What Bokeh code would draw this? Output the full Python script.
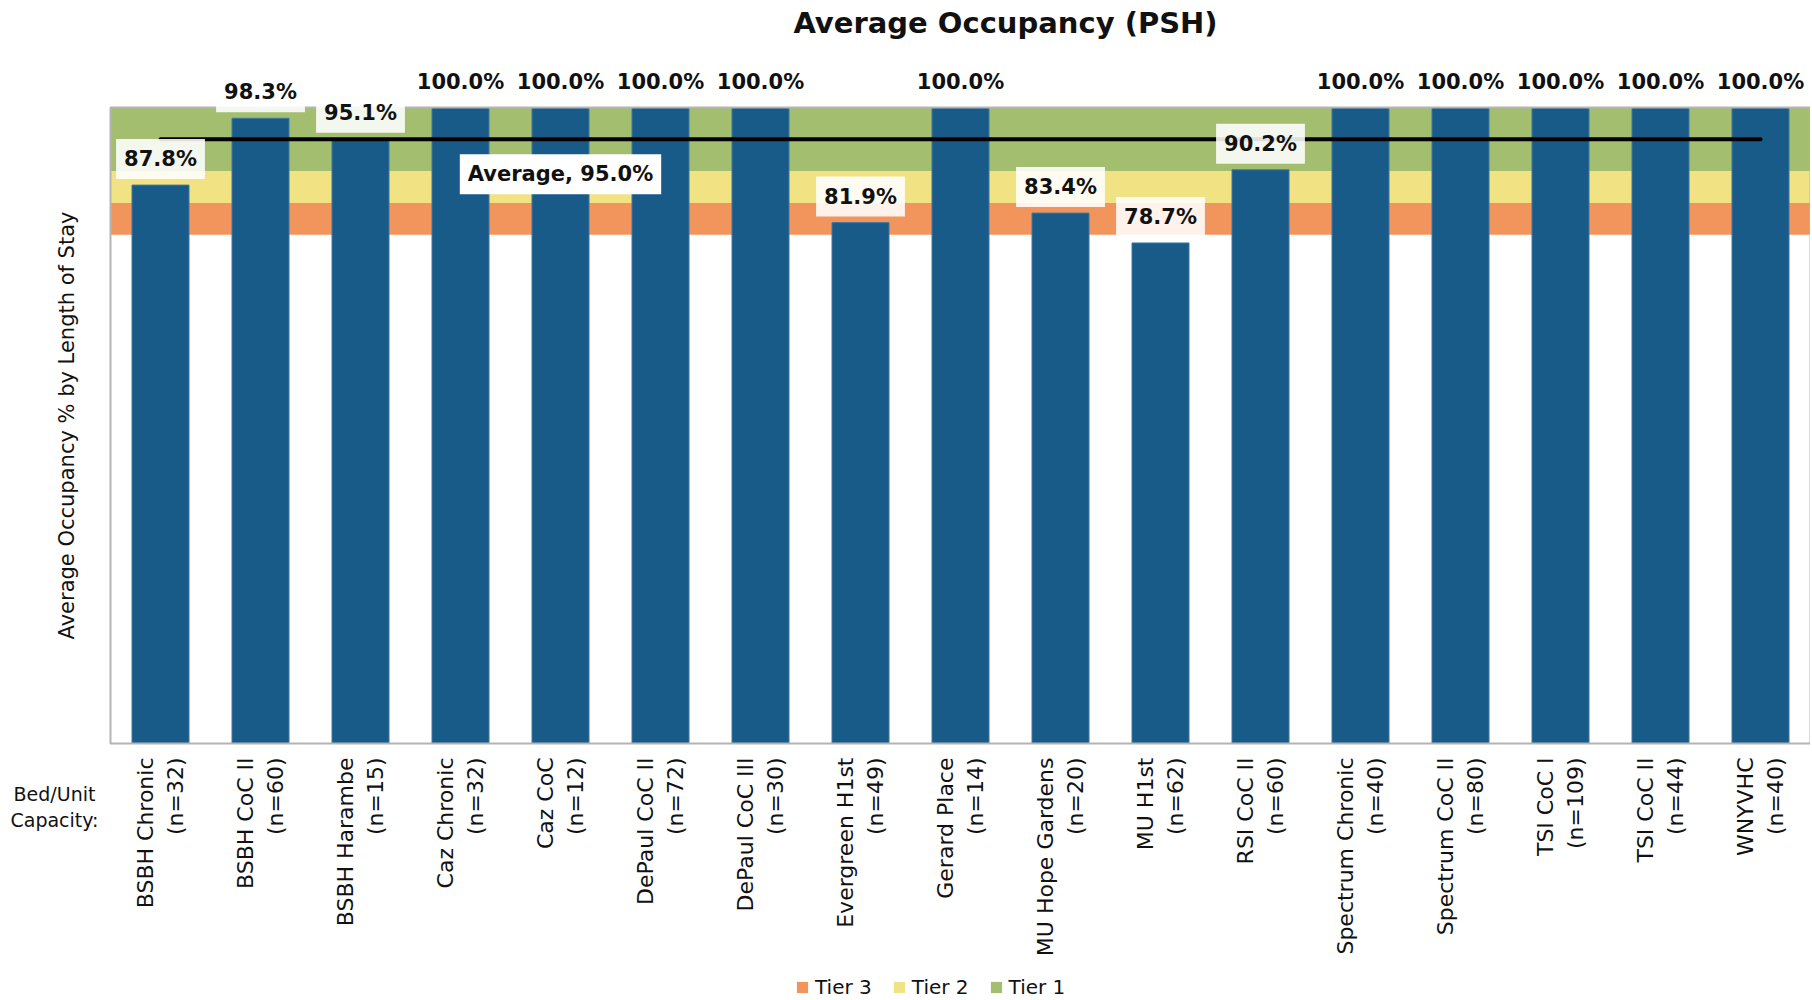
import math
from bokeh.plotting import figure
from bokeh.models import Range1d, FixedTicker, Label, ColumnDataSource
from bokeh.core.properties import value
from bokeh.embed import file_html
from bokeh.resources import INLINE

# ---- data ----
programs = ["BSBH Chronic", "BSBH CoC II", "BSBH Harambe", "Caz Chronic", "Caz CoC",
            "DePaul CoC II", "DePaul CoC III", "Evergreen H1st", "Gerard Place",
            "MU Hope Gardens", "MU H1st", "RSI CoC II", "Spectrum Chronic",
            "Spectrum CoC II", "TSI CoC I", "TSI CoC II", "WNYVHC"]
capacity = [32, 60, 15, 32, 12, 72, 30, 49, 14, 20, 62, 60, 40, 80, 109, 44, 40]
occupancy = [87.8, 98.3, 95.1, 100.0, 100.0, 100.0, 100.0, 81.9, 100.0,
             83.4, 78.7, 90.2, 100.0, 100.0, 100.0, 100.0, 100.0]
average_value = 95.0
tier_names = ["Tier 3", "Tier 2", "Tier 1"]
tier_low = [80, 85, 90]
tier_high = [85, 90, 100]
tier_colors = ["#f2955c", "#f1e384", "#a2be6e"]

FONT = "DejaVu Sans"
BLUE = "#185a88"
TXT = "#111111"

xs = list(range(len(programs)))
X_START, X_END = -0.5, len(programs) - 0.5      # plot area (category band)
Y_MIN, Y_MAX = 0, 100

# canvas geometry: frame covers the whole canvas so that every text can live in it
W, H = 1810, 998
PX_X = 100.0      # pixels per category
PX_Y = 6.36       # pixels per percentage point
LEFT_PX, BOTTOM_PX = 110, 743   # plot-area left / bottom in canvas pixels
xr = Range1d(X_START - LEFT_PX / PX_X, X_START + (W - LEFT_PX) / PX_X)
yr = Range1d(Y_MIN - (H - BOTTOM_PX) / PX_Y, Y_MIN + BOTTOM_PX / PX_Y)

p = figure(width=W, height=H, output_backend="svg", toolbar_location=None,
           title=None, x_range=xr, y_range=yr, min_border=0)
p.background_fill_color = "white"
p.border_fill_color = "white"
p.outline_line_color = None
p.xgrid.visible = False
p.ygrid.visible = False

# tier bands
tier_src = ColumnDataSource(dict(tier=tier_names, low=tier_low, high=tier_high, color=tier_colors))
p.quad(left=X_START, right=X_END, bottom="low", top="high", fill_color="color",
       line_color=None, legend_field="tier", source=tier_src)

# bars
p.vbar(x=xs, top=occupancy, width=0.57, fill_color=BLUE, line_color="#3f77a0", line_width=1)

# plot-area border
p.quad(left=X_START, right=X_END, bottom=Y_MIN, top=Y_MAX, fill_color=None,
       line_color="#b4b4b4", line_width=2)

# average line
p.line(x=[xs[0], xs[-1]], y=[average_value, average_value], line_color="black",
       line_width=4, line_cap="round")

# value labels
for i, v in enumerate(occupancy):
    p.add_layout(Label(x=i, y=v, y_offset=26, text=f"{v:.1f}%", text_align="center",
                       text_baseline="middle", text_font=FONT, text_font_size="21px",
                       text_font_style="bold", text_color=TXT,
                       background_fill_color="white", background_fill_alpha=0.88,
                       padding=8))

# average label
p.add_layout(Label(x=4, y=89.5, text=f"Average, {average_value:.1f}%", text_align="center",
                   text_baseline="middle", text_font=FONT, text_font_size="21px",
                   text_font_style="bold", text_color=TXT,
                   background_fill_color="white", background_fill_alpha=1.0, padding=8))

# title
p.text(x=[8.45], y=[Y_MAX], y_offset=-85, text=["Average Occupancy (PSH)"],
       text_align="center", text_baseline="middle", text_font=value(FONT),
       text_font_size="29px", text_font_style="bold", text_color=TXT)

# y axis title
p.text(x=[X_START - 0.44], y=[(Y_MIN + Y_MAX) / 2], angle=math.pi / 2,
       text=["Average Occupancy % by Length of Stay"], text_align="center",
       text_baseline="middle", text_font=value(FONT), text_font_size="21px",
       text_color=TXT)

# "Bed/Unit Capacity:" caption
p.add_layout(Label(x=X_START - 0.56, y=Y_MIN, y_offset=-50, text="Bed/Unit", text_align="center",
                   text_baseline="middle", text_font=FONT, text_font_size="19px",
                   text_color=TXT))
p.add_layout(Label(x=X_START - 0.56, y=Y_MIN, y_offset=-76, text="Capacity:", text_align="center",
                   text_baseline="middle", text_font=FONT, text_font_size="19px",
                   text_color=TXT))

# x axis drawn at y = 0
p.xaxis.fixed_location = Y_MIN
p.xaxis.ticker = FixedTicker(ticks=xs)
p.xaxis.major_label_overrides = {i: f"{name}\n(n={n})" for i, (name, n) in enumerate(zip(programs, capacity))}
p.xaxis.major_label_orientation = math.pi / 2
p.xaxis.major_label_text_font = FONT
p.xaxis.major_label_text_font_size = "22px"
p.xaxis.major_label_text_color = TXT
p.xaxis.major_label_standoff = 8
p.xaxis.axis_line_color = None
p.xaxis.major_tick_line_color = None
p.xaxis.minor_tick_line_color = None
p.yaxis.visible = False

# legend
leg = p.legend[0]
leg.orientation = "horizontal"
leg.location = (795, -1)
leg.padding = 0
leg.margin = 0
leg.spacing = 20
leg.glyph_width = 14
leg.glyph_height = 14
leg.label_standoff = 6
leg.label_text_font = FONT
leg.label_text_font_size = "20px"
leg.label_text_color = TXT
leg.background_fill_alpha = 0
leg.border_line_color = None

open("out.html", "w").write(file_html(p, INLINE))
